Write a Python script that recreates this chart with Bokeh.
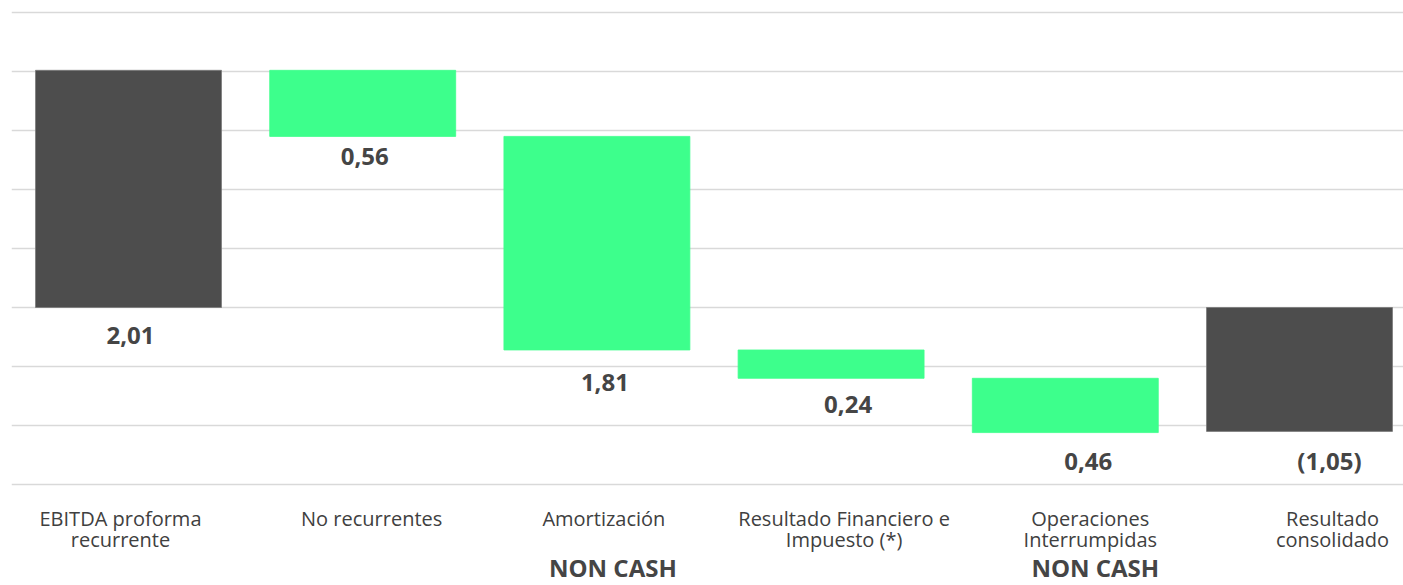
from bokeh.plotting import figure
from bokeh.models import ColumnDataSource, Range1d, Grid, FixedTicker
from bokeh.core.properties import value
from bokeh.embed import file_html
from bokeh.resources import INLINE

# ---- data ----
categories = [
    "EBITDA proforma\nrecurrente",
    "No recurrentes",
    "Amortización",
    "Resultado Financiero e\nImpuesto (*)",
    "Operaciones\nInterrumpidas",
    "Resultado\nconsolidado",
]
amounts = [2.01, -0.56, -1.81, -0.24, -0.46, -1.05]
is_total = [True, False, False, False, False, True]
notes = ["", "", "NON CASH", "", "NON CASH", ""]
grid_ticks = [-1.5, -1.0, -0.5, 0.0, 0.5, 1.0, 1.5, 2.0, 2.5]

# ---- styling ----
DARK = "#4d4d4d"
GREEN = "#3dff8c"
TEXT = "#454545"
FONT = value("Open Sans")
value_dx = [2, 2, 8, 17, 23, 30]      # px nudges of value labels
value_dy = [28, 20, 33, 26, 29, 29]   # px below bar bottom (baseline)
cat_dx = [-8, 9, 7, 13, 25, 33]
note_dx = [0, 0, 16, 0, 30, 0]

# ---- waterfall geometry from data ----
tops, bottoms, colors, lcolors, labels = [], [], [], [], []
run = 0.0
for amt, tot in zip(amounts, is_total):
    if tot:
        lo, hi = min(0.0, amt), max(0.0, amt)
        run = amt
        colors.append(DARK)
        lcolors.append("#7a7a7a")
        labels.append(("(%s)" if amt < 0 else "%s") % ("%.2f" % abs(amt)).replace(".", ","))
    else:
        new = run + amt
        lo, hi = min(run, new), max(run, new)
        run = new
        colors.append(GREEN)
        lcolors.append(GREEN)
        labels.append(("%.2f" % abs(amt)).replace(".", ","))
    tops.append(hi)
    bottoms.append(lo)

xs = list(range(len(categories)))

src = ColumnDataSource(dict(x=xs, top=tops, bottom=bottoms, color=colors, lc=lcolors,
                            label=labels, dx=value_dx, dy=value_dy))

# pixel layout: 118 px per unit, 234.2 px per category
W, H = 1403, 585
LEFT = 11
PX = 118.0
ytop = 2.5 + 12 / PX
ybot = ytop - H / PX
xstart = -117 / 234.2
xend = xstart + (W - LEFT) / 234.2

p = figure(width=W, height=H, x_range=Range1d(xstart, xend), y_range=Range1d(ybot, ytop),
           x_axis_type=None, y_axis_type=None, output_backend="svg", toolbar_location=None,
           min_border_left=LEFT, min_border_right=0, min_border_top=0, min_border_bottom=0,
           outline_line_color=None, background_fill_color="white", border_fill_color="white")

g = Grid(dimension=1, ticker=FixedTicker(ticks=grid_ticks), grid_line_color="#d9d9d9",
         grid_line_width=1.6)
p.add_layout(g)

p.vbar(x="x", width=0.794, top="top", bottom="bottom", fill_color="color",
       line_color="lc", line_width=0.8, source=src)

p.text(x="x", y="bottom", text="label", x_offset="dx", y_offset="dy", source=src,
       text_font=FONT, text_font_style="bold", text_font_size="24px", text_color=TEXT,
       text_align="center", text_baseline="alphabetic")

# category labels (two lines) under the bottom gridline
line1, line2 = [], []
for c in categories:
    parts = c.split("\n")
    line1.append(parts[0])
    line2.append(parts[1] if len(parts) > 1 else "")
base = min(grid_ticks)
csrc = ColumnDataSource(dict(x=xs, y=[base] * len(xs), l1=line1, l2=line2, dx=cat_dx,
                             note=notes, ndx=note_dx))
p.text(x="x", y="y", text="l1", x_offset="dx", y_offset=34, source=csrc,
       text_font=FONT, text_font_size="20px", text_color="#404040",
       text_align="center", text_baseline="alphabetic")
p.text(x="x", y="y", text="l2", x_offset="dx", y_offset=55, source=csrc,
       text_font=FONT, text_font_size="20px", text_color="#404040",
       text_align="center", text_baseline="alphabetic")
p.text(x="x", y="y", text="note", x_offset="ndx", y_offset=83, source=csrc,
       text_font=FONT, text_font_style="bold", text_font_size="24px", text_color=TEXT,
       text_align="center", text_baseline="alphabetic")

open("out.html", "w").write(file_html(p, INLINE))
